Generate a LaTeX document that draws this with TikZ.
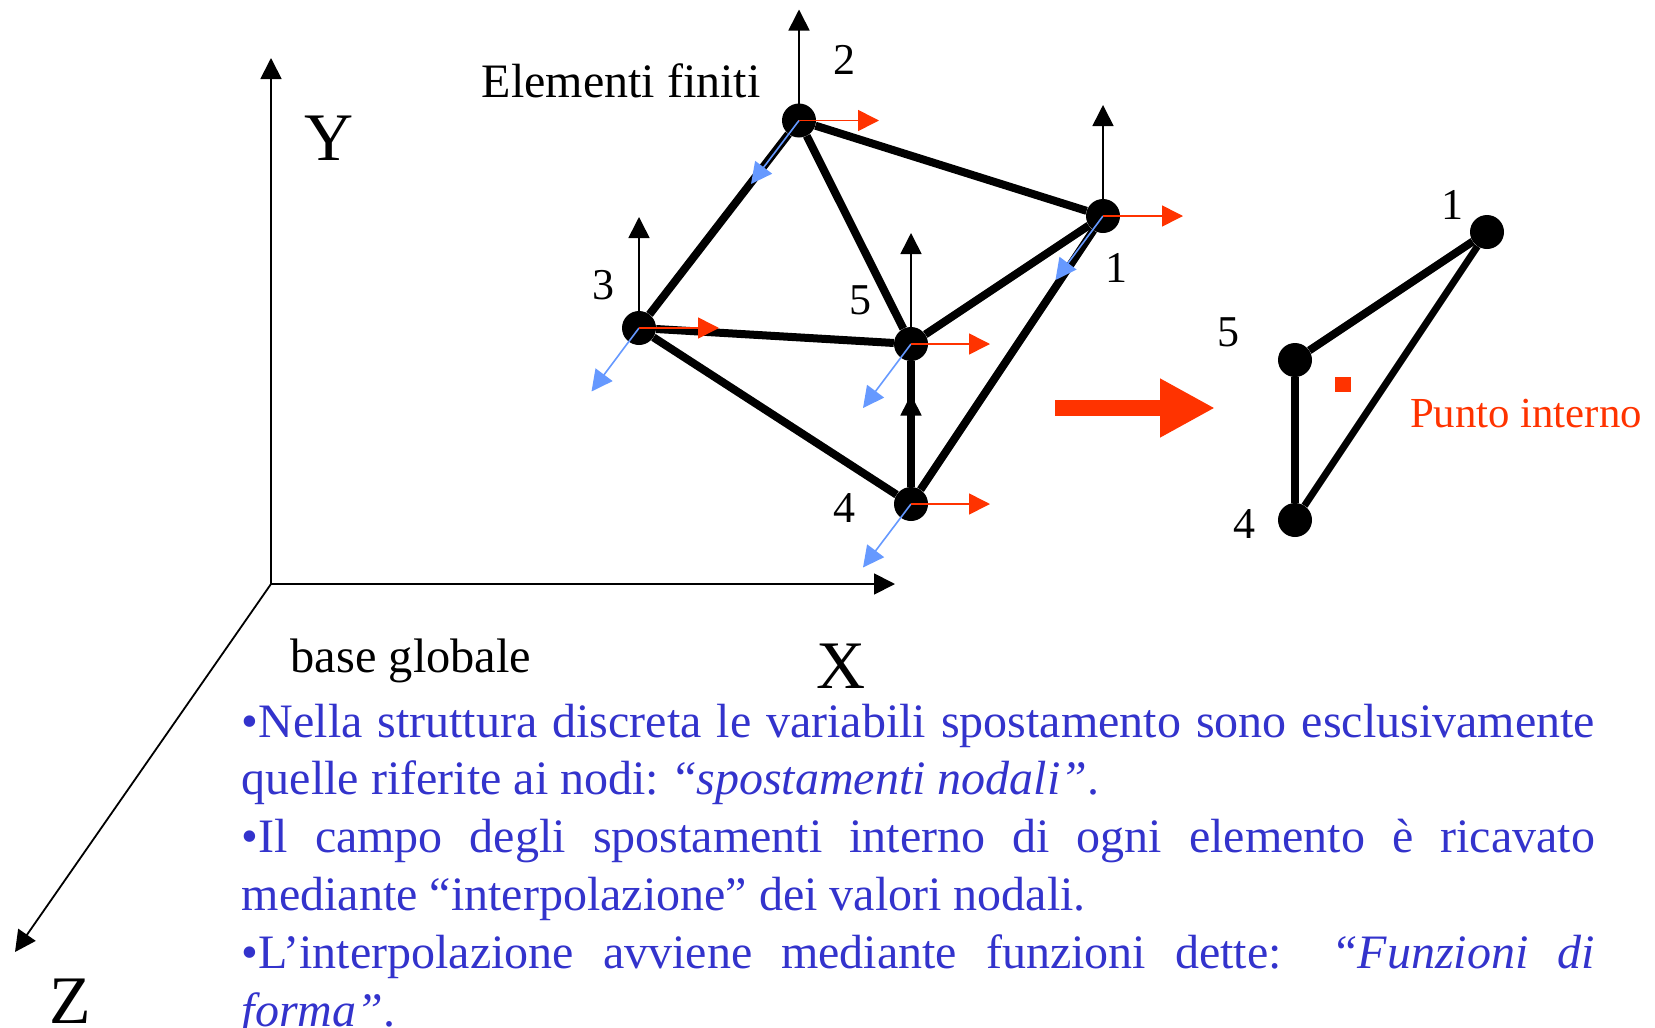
\documentclass[tikz,border=0pt]{standalone}
\usepackage{fontspec}
\setmainfont{Liberation Serif}
\usetikzlibrary{arrows.meta}
\definecolor{keyblue}{RGB}{51, 51, 204}
\definecolor{keyred}{RGB}{255, 51, 0}
\definecolor{dofblue}{RGB}{102, 153, 255}
\begin{document}
\begin{tikzpicture}[x=1pt, y=-1pt, >={Triangle[length=21pt, width=21pt]},
    dot/.style={circle, fill=black, minimum size=34pt, inner sep=0pt},
    num/.style={anchor=base, inner sep=0pt, font=\fontsize{44}{44}\selectfont},
    axislabel/.style={anchor=base, inner sep=0pt, font=\fontsize{68}{68}\selectfont},
    side/.style={line width=8pt},
    dofy/.style={->, line width=1.6pt},
    dofx/.style={->, line width=1.6pt, keyred},
    dofz/.style={->, line width=1.6pt, dofblue}]
  \useasboundingbox (0, 0) rectangle (1655, 1028);

  % Global axes
  \coordinate (O)  at (271, 584);
  \coordinate (OY) at (271, 58);
  \coordinate (OX) at (895, 584);
  \coordinate (OZ) at (15, 952);
  \draw[->, line width=1.8pt] (O) -- (OY);
  \draw[->, line width=1.8pt] (O) -- (OX);
  \draw[->, line width=1.8pt] (O) -- (OZ);
  \node[axislabel] (ly) at (329.5, 160) {Y};
  \node[axislabel] (lx) at (841.5, 688) {X};
  \node[axislabel] (lz) at (70, 1023) {Z};
  \node[anchor=base, inner sep=0pt, font=\fontsize{48.4}{48.4}\selectfont] (base) at (411, 672) {base globale};
  \node[anchor=base, inner sep=0pt, font=\fontsize{48}{48}\selectfont] (elem) at (621, 97) {Elementi finiti};

  % Mesh
  \node[dot] (n1) at (1103, 216)  {};
  \node[dot] (n2) at (799, 120.5) {};
  \node[dot] (n3) at (639, 328)   {};
  \node[dot] (n4) at (911, 504)   {};
  \node[dot] (n5) at (911, 344)   {};

  \draw[side] (n2) -- (n1);
  \draw[side] (n2) -- (n3);
  \draw[side] (n2) -- (n5);
  \draw[side] (n3) -- (n5);
  \draw[side] (n3) -- (n4);
  \draw[side] (n5) -- (n1);
  \draw[side] (n5) -- (n4);
  \draw[side] (n4) -- (n1);

  \node[num] (l1) at (1116.5, 282) {1};
  \node[num] (l2) at (844.5, 74)   {2};
  \node[num] (l3) at (603.5, 299)  {3};
  \node[num] (l4) at (844.5, 522)  {4};
  \node[num] (l5) at (860.5, 314)  {5};

  % Nodal displacements
  \coordinate (u1) at (1103, 105);
  \coordinate (u2) at (799, 9.5);
  \coordinate (u3) at (639, 217);
  \coordinate (u4) at (911, 394.5);
  \coordinate (u5) at (911, 233);
  \coordinate (v1) at (1183, 216);
  \coordinate (v2) at (879, 120.5);
  \coordinate (v3) at (719, 328);
  \coordinate (v4) at (990, 504);
  \coordinate (v5) at (990, 344);
  \coordinate (w1) at (1055.5, 280);
  \coordinate (w2) at (751, 184);
  \coordinate (w3) at (591.5, 391.5);
  \coordinate (w4) at (863, 567.5);
  \coordinate (w5) at (863, 408);
  \draw[dofy] (n1.center) -- (u1);
  \draw[dofy] (n2.center) -- (u2);
  \draw[dofy] (n3.center) -- (u3);
  \draw[dofy] (n4.center) -- (u4);
  \draw[dofy] (n5.center) -- (u5);
  \draw[dofz] (n1.center) -- (w1);
  \draw[dofz] (n2.center) -- (w2);
  \draw[dofz] (n3.center) -- (w3);
  \draw[dofz] (n4.center) -- (w4);
  \draw[dofz] (n5.center) -- (w5);
  \draw[dofx] (n1.center) -- (v1);
  \draw[dofx] (n2.center) -- (v2);
  \draw[dofx] (n3.center) -- (v3);
  \draw[dofx] (n4.center) -- (v4);
  \draw[dofx] (n5.center) -- (v5);

  % Big arrow
  \coordinate (from) at (1055, 408);
  \coordinate (to)   at (1215, 408);
  \draw[-{Triangle[length=55pt, width=55pt]}, line width=15.5pt, keyred] (from) -- (to);

  % Single element
  \node[dot] (e1) at (1487, 232) {};
  \node[dot] (e5) at (1295, 360) {};
  \node[dot] (e4) at (1295, 520) {};
  \draw[side] (e5) -- (e1);
  \draw[side] (e4) -- (e5);
  \draw[line width=7pt] (e4) -- (e1);
  \node[num] (m1) at (1452.5, 219) {1};
  \node[num] (m5) at (1228, 346.5) {5};
  \node[num] (m4) at (1244.5, 538.5) {4};
  \node[fill=keyred, minimum width=16pt, minimum height=15.5pt, inner sep=0pt] (ip) at (1343, 384.5) {};
  \node[anchor=base, inner sep=0pt, keyred, font=\fontsize{42.8}{42.8}\selectfont] (ipl) at (1526, 427) {Punto interno};

  % Text
  \node[anchor=north west, inner sep=0pt, text width=1353pt, align=justify, keyblue,
        font=\fontsize{48}{57.8}\selectfont] (txt) at (241.7, 703.5) {%
    •Nella struttura discreta le variabili spostamento sono esclusivamente quelle riferite ai nodi: “\textit{spostamenti nodali”}.\par
    •Il campo degli spostamenti interno di ogni elemento è ricavato\linebreak mediante “interpolazione” dei valori nodali.\par
    •L’interpolazione avviene mediante funzioni dette: \textit{“Funzioni di forma”}.};
\end{tikzpicture}
\end{document}
